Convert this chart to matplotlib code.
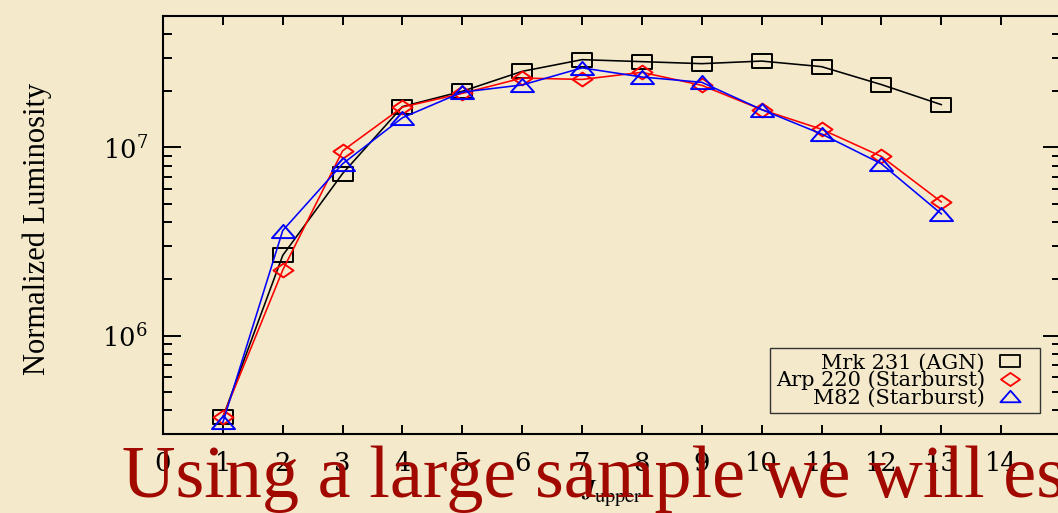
import matplotlib
matplotlib.use("Agg")
import matplotlib.pyplot as plt
from matplotlib.path import Path
from matplotlib.lines import Line2D
from matplotlib.ticker import (LogLocator, LogFormatterMathtext, NullLocator,
                               NullFormatter, FixedLocator)

# CO ladder: normalized line luminosity versus upper rotational level
j_upper = [1, 2, 3, 4, 5, 6, 7, 8, 9, 10, 11, 12, 13]
mrk231 = [3.68e5, 2.67e6, 7.27e6, 1.65e7, 1.99e7, 2.54e7, 2.93e7,
          2.86e7, 2.79e7, 2.88e7, 2.69e7, 2.16e7, 1.69e7]
arp220 = [3.70e5, 2.23e6, 9.60e6, 1.64e7, 1.94e7, 2.34e7, 2.30e7,
          2.51e7, 2.14e7, 1.59e7, 1.25e7, 8.96e6, 5.14e6]
m82 = [3.46e5, 3.62e6, 8.19e6, 1.44e7, 1.97e7, 2.15e7, 2.65e7,
       2.37e7, 2.22e7, 1.59e7, 1.18e7, 8.19e6, 4.44e6]
series_labels = ["Mrk 231 (AGN)", "Arp 220 (Starburst)", "M82 (Starburst)"]
x_ticks = list(range(0, 15))
banner = "Using a large sample we will es"

BG = "#F4E9CB"
plt.rcParams["font.family"] = ["DejaVu Serif"]
plt.rcParams["mathtext.fontset"] = "dejavuserif"

# wide, open marker shapes
SQUARE = Path([(-1.5, -1), (1.5, -1), (1.5, 1), (-1.5, 1), (-1.5, -1)], closed=True)
DIAMOND = Path([(-1.45, 0), (0, 1), (1.45, 0), (0, -1), (-1.45, 0)], closed=True)
TRIANGLE = Path([(-1.75, -1), (1.75, -1), (0, 1), (-1.75, -1)], closed=True)

W, H = 1058, 513
fig = plt.figure(figsize=(W / 100, H / 100), dpi=100, facecolor=BG)
ax = fig.add_axes([163 / W, 79 / H, 898 / W, 418 / H])
ax.set_facecolor(BG)

styles = [
    (mrk231, "#000000", SQUARE, 15.1),
    (arp220, "#FF0000", DIAMOND, 14.4),
    (m82, "#0000FF", TRIANGLE, 16.6),
]
for vals, col, mk, ms in styles:
    ax.plot(j_upper, vals, color=col, lw=1.15, marker=mk, ms=ms,
            mfc="none", mec=col, mew=1.4)

ax.set_yscale("log")
ax.set_xlim(0, 15)
ax.set_ylim(3e5, 5e7)

ax.xaxis.set_major_locator(FixedLocator(x_ticks))
ax.xaxis.set_minor_locator(NullLocator())
ax.yaxis.set_major_locator(LogLocator(base=10))
ax.yaxis.set_major_formatter(LogFormatterMathtext())
ax.yaxis.set_minor_locator(LogLocator(base=10, subs=range(2, 10)))
ax.yaxis.set_minor_formatter(NullFormatter())

for sp in ax.spines.values():
    sp.set_linewidth(1.5)
ax.tick_params(axis="both", which="both", direction="in", top=True,
               right=True, width=1.4, color="black")
ax.tick_params(axis="y", which="major", length=13, pad=11, labelsize=18.5)
ax.tick_params(axis="y", which="minor", length=6.5)
ax.tick_params(axis="x", which="major", length=6.5, pad=12, labelsize=18.5)

ax.set_xlabel(r"$J_{\rm upper}$", fontsize=21, math_fontfamily="stix")
ax.xaxis.set_label_coords(0.5, -0.105)
ax.set_ylabel("Normalized Luminosity", family="Liberation Serif", fontsize=22)
ax.yaxis.set_label_coords(-0.124, 0.49)

handles = [
    Line2D([], [], ls="none", marker=SQUARE, ms=13.7, mfc="none", mec="#000000", mew=1.3),
    Line2D([], [], ls="none", marker=DIAMOND, ms=13.7, mfc="none", mec="#FF0000", mew=1.3),
    Line2D([], [], ls="none", marker=TRIANGLE, ms=14.5, mfc="none", mec="#0000FF", mew=1.3),
]
leg = ax.legend(handles, series_labels, loc="lower right",
                bbox_to_anchor=(1040 / W, 100 / H), bbox_transform=fig.transFigure,
                markerfirst=False, fontsize=15, frameon=True, fancybox=False,
                edgecolor="#333333", facecolor=BG, framealpha=1, borderpad=0.25,
                labelspacing=-0.08, handlelength=2.4, handletextpad=0.0,
                borderaxespad=0)
leg.get_frame().set_linewidth(1.0)

fig.text(122 / W, 16 / H, banner, family="Liberation Serif", fontsize=53.5,
         color="#A00800", ha="left", va="baseline", zorder=10)

fig.savefig("out.png", dpi=100, facecolor=BG)
